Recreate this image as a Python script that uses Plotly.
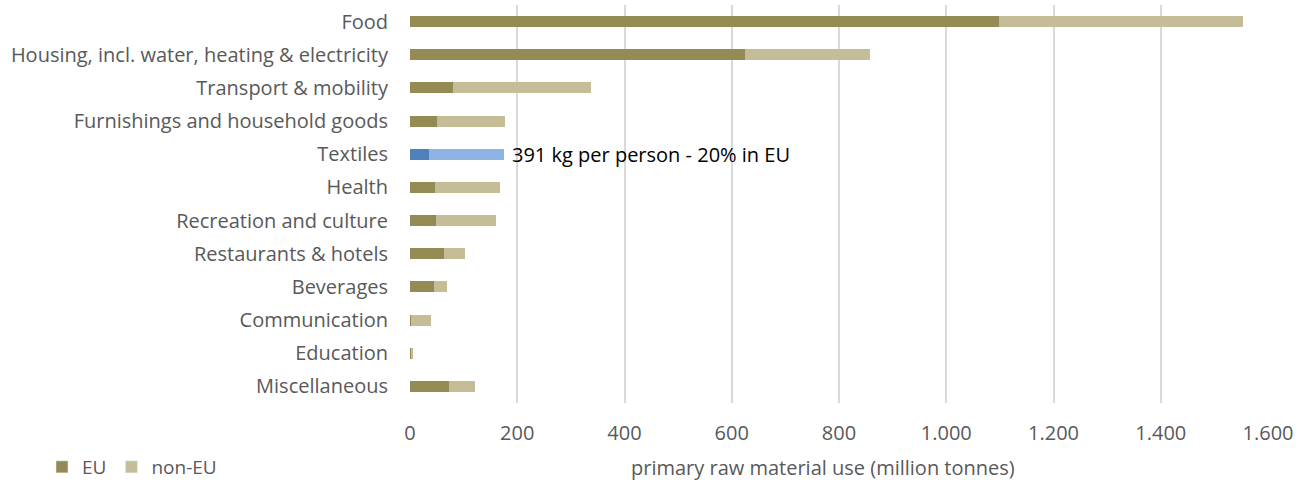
import plotly.graph_objects as go

categories = ["Food", "Housing, incl. water, heating & electricity", "Transport & mobility",
              "Furnishings and household goods", "Textiles", "Health", "Recreation and culture",
              "Restaurants & hotels", "Beverages", "Communication", "Education", "Miscellaneous"]
eu = [1099, 625, 81, 51, 35, 47, 48, 63, 45, 1, 1, 72]
non_eu = [455, 232, 257, 127, 140, 120, 112, 40, 24, 39, 4, 49]
tick_vals = [0, 200, 400, 600, 800, 1000, 1200, 1400, 1600]

EU_COL, NONEU_COL = "#948a54", "#c4bd97"
TEX_EU, TEX_NON = "#4f81bd", "#8db4e2"

eu_colors = [TEX_EU if c == "Textiles" else EU_COL for c in categories]
non_colors = [TEX_NON if c == "Textiles" else NONEU_COL for c in categories]

W, H = 1308, 486
L, R, T, B = 410, 40, 5, 83

fig = go.Figure()
fig.add_trace(go.Bar(y=categories, x=eu, orientation="h", marker=dict(color=eu_colors, line=dict(width=0)),
                     showlegend=False, name="EU"))
fig.add_trace(go.Bar(y=categories, x=non_eu, orientation="h", marker=dict(color=non_colors, line=dict(width=0)),
                     showlegend=False, name="non-EU"))
fig.add_trace(go.Bar(y=[None], x=[None], orientation="h", marker=dict(color=EU_COL), name="EU"))
fig.add_trace(go.Bar(y=[None], x=[None], orientation="h", marker=dict(color=NONEU_COL), name="non-EU"))

tex_i = categories.index("Textiles")
fig.add_annotation(x=eu[tex_i] + non_eu[tex_i], y="Textiles", text="391 kg per person - 20% in EU",
                   showarrow=False, xanchor="left", xshift=6,
                   font=dict(family="Open Sans", size=20, color="#000000"))

plot_w = W - L - R
plot_h = H - T - B
fig.add_annotation(text="primary raw material use (million tonnes)", xref="paper", yref="paper",
                   x=(823 - L) / plot_w, y=-(467 - (H - B)) / plot_h, showarrow=False,
                   xanchor="center", yanchor="middle",
                   font=dict(family="Open Sans", size=20, color="#595959"))

fig.update_layout(
    width=W, height=H,
    barmode="stack", bargap=0.67,
    separators=",.",
    plot_bgcolor="white", paper_bgcolor="white",
    margin=dict(l=L, r=R, t=T, b=B, autoexpand=False),
    font=dict(family="Open Sans", size=20, color="#595959"),
    legend=dict(orientation="h", xref="container", yref="container", x=42 / W, xanchor="left",
                y=(H - 467) / H, yanchor="middle",
                font=dict(size=19, color="#595959"), traceorder="normal", itemwidth=30),
    xaxis=dict(range=[0, 1600], tickvals=tick_vals, tickformat=",d", showgrid=True,
               gridcolor="#d9d9d9", gridwidth=1.5, zeroline=False, showline=False,
               ticks="", ticklabelstandoff=16, automargin=False,
               tickfont=dict(size=20, color="#595959")),
    yaxis=dict(categoryorder="array", categoryarray=categories, autorange="reversed",
               showgrid=False, ticks="", ticklabelstandoff=21, showline=False, automargin=False,
               tickfont=dict(size=20, color="#595959")),
)
fig.write_html("out.html")
